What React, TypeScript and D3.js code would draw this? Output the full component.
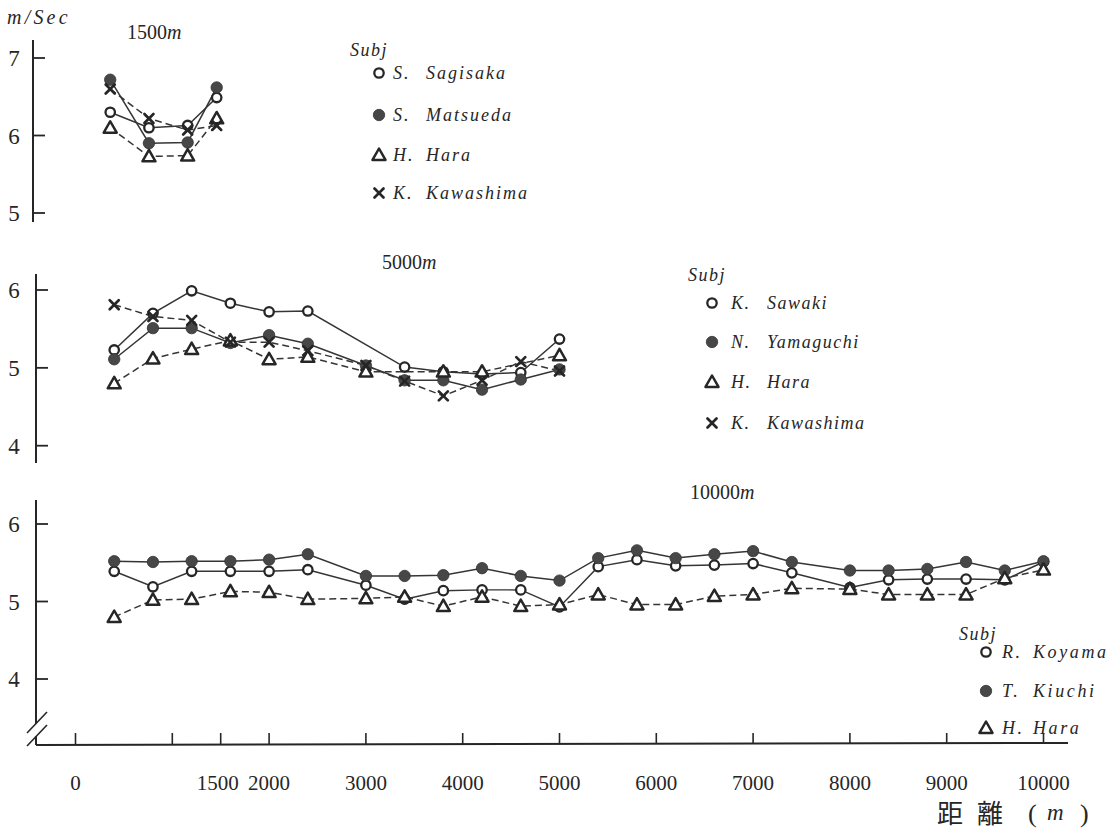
import React from 'react';
import * as d3 from 'd3';

// ---------- data (m/sec at each split distance, metres) ----------
const splits1500 = [400, 800, 1200, 1500];
const sagisaka1500 = [6.30, 6.10, 6.13, 6.49];
const matsueda1500 = [6.72, 5.90, 5.91, 6.62];
const hara1500 = [6.10, 5.73, 5.74, 6.22];
const kawashima1500 = [6.60, 6.22, 6.07, 6.13];

const splits5000 = [400, 800, 1200, 1600, 2000, 2400, 3000, 3400, 3800, 4200, 4600, 5000];
const sawaki5000 = [5.23, 5.70, 5.99, 5.83, 5.72, 5.73, null, 5.01, 4.95, 4.92, 4.94, 5.37];
const yamaguchi5000 = [5.11, 5.51, 5.51, 5.32, 5.42, 5.31, 5.03, 4.84, 4.84, 4.72, 4.85, 4.98];
const hara5000 = [4.80, 5.12, 5.24, 5.35, 5.11, 5.14, 4.95, null, 4.95, 4.95, null, 5.16];
const kawashima5000 = [5.81, 5.66, 5.61, 5.33, 5.33, 5.22, 5.03, 4.83, 4.64, 4.84, 5.08, 4.96];

const splits10000 = [400, 800, 1200, 1600, 2000, 2400, 3000, 3400, 3800, 4200, 4600, 5000,
  5400, 5800, 6200, 6600, 7000, 7400, 8000, 8400, 8800, 9200, 9600, 10000];
const koyama10000 = [5.39, 5.19, 5.39, 5.39, 5.39, 5.41, 5.21, 5.03, 5.14, 5.15, 5.15, 4.93,
  5.45, 5.54, 5.46, 5.47, 5.49, 5.37, 5.18, 5.28, 5.29, 5.29, 5.28, 5.51];
const kiuchi10000 = [5.52, 5.51, 5.52, 5.52, 5.54, 5.61, 5.33, 5.33, 5.34, 5.43, 5.33, 5.27,
  5.56, 5.66, 5.56, 5.61, 5.65, 5.51, 5.40, 5.40, 5.42, 5.51, 5.40, 5.52];
const hara10000 = [4.80, 5.02, 5.03, 5.13, 5.12, 5.03, 5.04, 5.06, 4.94, 5.06, 4.94, 4.96,
  5.09, 4.96, 4.96, 5.07, 5.09, 5.17, 5.16, 5.09, 5.09, 5.09, 5.30, 5.41];

const xTicks = [0, 1000, 1500, 2000, 3000, 4000, 5000, 6000, 7000, 8000, 9000, 10000];
const xTickLabels = ['0', '', '1500', '2000', '3000', '4000', '5000', '6000', '7000', '8000', '9000', '10000'];
const yTicksTop = [5, 6, 7];
const yTicksMid = [4, 5, 6];
const yTicksBot = [4, 5, 6];

type Marker = 'open' | 'filled' | 'tri' | 'x';
interface Series { name: string; xs: number[]; ys: (number | null)[]; marker: Marker; dashed: boolean; }

const panels = [
  {
    title: '1500', titleX: 127, titleY: 39,
    domain: [5, 7], range: [213, 58], axisX: 33, axisTop: 40, axisBottom: 222, dx: -4,
    ticks: yTicksTop,
    legend: { x: 350, y: 56, markerX: 379, initX: 393, lastX: 426, ls: 2, rows: [73, 115, 155, 193] },
    series: [
      { name: 'S. Sagisaka', xs: splits1500, ys: sagisaka1500, marker: 'open', dashed: false },
      { name: 'S. Matsueda', xs: splits1500, ys: matsueda1500, marker: 'filled', dashed: false },
      { name: 'H. Hara', xs: splits1500, ys: hara1500, marker: 'tri', dashed: true },
      { name: 'K. Kawashima', xs: splits1500, ys: kawashima1500, marker: 'x', dashed: true },
    ] as Series[],
  },
  {
    title: '5000', titleX: 382, titleY: 269,
    domain: [4, 6], range: [445.7, 290], axisX: 36, axisTop: 274, axisBottom: 463, dx: 0,
    ticks: yTicksMid,
    legend: { x: 688, y: 281, markerX: 712, initX: 731, lastX: 767, ls: 1.5, rows: [303, 342, 382, 423] },
    series: [
      { name: 'K. Sawaki', xs: splits5000, ys: sawaki5000, marker: 'open', dashed: false },
      { name: 'N. Yamaguchi', xs: splits5000, ys: yamaguchi5000, marker: 'filled', dashed: false },
      { name: 'H. Hara', xs: splits5000, ys: hara5000, marker: 'tri', dashed: true },
      { name: 'K. Kawashima', xs: splits5000, ys: kawashima5000, marker: 'x', dashed: true },
    ] as Series[],
  },
  {
    title: '10000', titleX: 690, titleY: 499,
    domain: [4, 6], range: [679, 524], axisX: 36, axisTop: 500, axisBottom: 745, dx: 0,
    ticks: yTicksBot,
    legend: { x: 959, y: 640, markerX: 986, initX: 1002, lastX: 1033, ls: 2.6, rows: [652, 691, 728] },
    series: [
      { name: 'R. Koyama', xs: splits10000, ys: koyama10000, marker: 'open', dashed: false },
      { name: 'T. Kiuchi', xs: splits10000, ys: kiuchi10000, marker: 'filled', dashed: false },
      { name: 'H. Hara', xs: splits10000, ys: hara10000, marker: 'tri', dashed: true },
    ] as Series[],
  },
];

const INK = '#262626';
const LINE = '#353535';
const SERIF = 'Liberation Serif, DejaVu Serif, Times New Roman, serif';

const xScale = d3.scaleLinear().domain([0, 10000]).range([75.5, 1043.5]);

function MarkerShape({ kind, x, y }: { kind: Marker; x: number; y: number }) {
  if (kind === 'open') {
    return <circle cx={x} cy={y} r={4.7} fill="#fff" stroke={INK} strokeWidth={2.3} />;
  }
  if (kind === 'filled') {
    return <circle cx={x} cy={y} r={5.7} fill="#474747" stroke="#333" strokeWidth={0.8} />;
  }
  if (kind === 'tri') {
    const s = 6.5;
    const tri = d3.path();
    tri.moveTo(x, y - s);
    tri.lineTo(x + s, y + s * 0.75);
    tri.lineTo(x - s, y + s * 0.75);
    tri.closePath();
    return <path d={tri.toString()} fill="#fff" stroke={INK} strokeWidth={2.5} strokeLinejoin="round" />;
  }
  const s = 4.5;
  return (
    <g stroke={INK} strokeWidth={2.7} strokeLinecap="round">
      <line x1={x - s} y1={y - s} x2={x + s} y2={y + s} />
      <line x1={x - s} y1={y + s} x2={x + s} y2={y - s} />
    </g>
  );
}

function Panel({ p }: { p: typeof panels[number] }) {
  const y = d3.scaleLinear().domain(p.domain).range(p.range);
  const line = d3.line<[number, number]>().x((d) => xScale(d[0]) + p.dx).y((d) => y(d[1]));
  const isBottom = p.title === '10000';
  return (
    <g>
      {isBottom ? (
        <g stroke={INK} strokeWidth={2}>
          <line x1={p.axisX} y1={p.axisTop} x2={p.axisX} y2={724} />
          <line x1={p.axisX} y1={736} x2={p.axisX} y2={p.axisBottom} />
          <line x1={27} y1={733} x2={47} y2={712} strokeWidth={1.6} />
          <line x1={27} y1={746} x2={47} y2={725} strokeWidth={1.6} />
        </g>
      ) : (
        <line x1={p.axisX} y1={p.axisTop} x2={p.axisX} y2={p.axisBottom} stroke={INK} strokeWidth={2} />
      )}
      {p.ticks.map((t) => (
        <g key={t}>
          <line x1={p.axisX} y1={y(t)} x2={p.axisX + 12} y2={y(t)} stroke={INK} strokeWidth={1.8} />
          <text x={14} y={y(t) + 8} textAnchor="middle" fontFamily={SERIF} fontSize={23} fill={INK}>{t}</text>
        </g>
      ))}
      <text x={p.titleX} y={p.titleY} fontFamily={SERIF} fontSize={20} fill={INK}>
        {p.title}<tspan fontStyle="italic">m</tspan>
      </text>
      {p.series.map((s) => {
        const pts: [number, number][] = s.xs
          .map((d, i) => [d, s.ys[i]] as [number, number | null])
          .filter((d) => d[1] !== null) as [number, number][];
        return (
          <path key={s.name + 'l'} d={line(pts) || ''} fill="none" stroke={LINE}
            strokeWidth={1.5} strokeDasharray={s.dashed ? '7,4' : undefined} />
        );
      })}
      {p.series.map((s) => (
        <g key={s.name + 'm'}>
          {s.xs.map((d, i) => (s.ys[i] === null ? null : (
            <MarkerShape key={i} kind={s.marker} x={xScale(d) + p.dx} y={y(s.ys[i] as number)} />
          )))}
        </g>
      ))}
      <text x={p.legend.x} y={p.legend.y} fontFamily={SERIF} fontStyle="italic" fontSize={18}
        letterSpacing={1.5} fill={INK}>Subj</text>
      {p.series.map((s, i) => {
        const ry = p.legend.rows[i];
        const [init, last] = s.name.split('. ');
        return (
          <g key={s.name + 'lg'}>
            <MarkerShape kind={s.marker} x={p.legend.markerX} y={ry} />
            <text x={p.legend.initX} y={ry + 6} fontFamily={SERIF} fontStyle="italic" fontSize={18}
              letterSpacing={p.legend.ls} fill={INK}>{init}.</text>
            <text x={p.legend.lastX} y={ry + 6} fontFamily={SERIF} fontStyle="italic" fontSize={18}
              letterSpacing={p.legend.ls} fill={INK}>{last}</text>
          </g>
        );
      })}
    </g>
  );
}

export default function App() {
  const baseY = 745;
  return (
    <svg width={1117} height={829} style={{ position: 'absolute', left: 0, top: 0, background: '#fff' }}>
      <rect x={0} y={0} width={1117} height={829} fill="#fff" />
      <text x={7} y={24} fontFamily={SERIF} fontStyle="italic" fontSize={20} letterSpacing={3.2} fill={INK}>m/Sec</text>
      {panels.map((p) => <Panel key={p.title} p={p} />)}
      <line x1={36} y1={baseY} x2={1068} y2={baseY - 2} stroke={INK} strokeWidth={2} />
      {xTicks.map((t, i) => (
        <g key={t}>
          <line x1={xScale(t)} y1={baseY - 1} x2={xScale(t)} y2={baseY - 12} stroke={INK} strokeWidth={1.6} />
          <text x={xScale(t) - (t === 1500 ? 3 : 0)} y={790} textAnchor="middle" fontFamily={SERIF}
            fontSize={21} fill={INK}>{xTickLabels[i]}</text>
        </g>
      ))}
      <text x={937} y={823} fontFamily="Noto Sans CJK JP, sans-serif" fontSize={26} fill={INK}
        letterSpacing={14}>距離</text>
      <text x={1028} y={822} fontFamily={SERIF} fontSize={26} fill={INK}>(</text>
      <text x={1047} y={820} fontFamily={SERIF} fontStyle="italic" fontSize={23} fill={INK}>m</text>
      <text x={1080} y={822} fontFamily={SERIF} fontSize={26} fill={INK}>)</text>
    </svg>
  );
}
